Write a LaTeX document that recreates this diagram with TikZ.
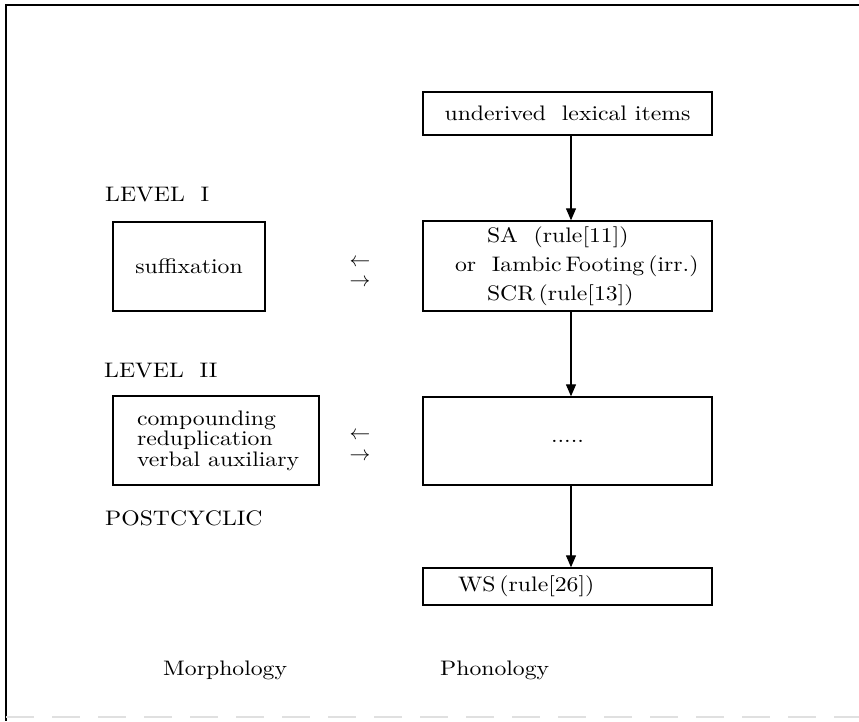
\documentclass[tikz,border=0pt]{standalone}
\usepackage{graphicx}
\usetikzlibrary{arrows.meta}

% 10pt text enlarged, a little wider than tall; word spaces taken from the 10pt font
\newcommand{\wt}[1]{\scalebox{2.37}[2.1]{\fontsize{10}{12}\selectfont\spaceskip=0pt\xspaceskip=0pt #1}}

\tikzset{
  box/.style={draw, line width=1.4pt, inner sep=0pt},
  flow/.style={line width=1.3pt, -{Triangle[length=12pt,width=10pt]}},
  label/.style={anchor=base west, inner sep=0pt},
  swap/.style={inner sep=0pt},
}

\begin{document}
\begin{tikzpicture}[x=1pt, y=-1pt, font=\fontsize{21}{25}\selectfont]
\useasboundingbox (0,0) rectangle (859,721);

% frame
\draw[line width=2pt] (859,5) -- (6,5) -- (6,721);
\draw[black!12, line width=1.2pt, dash pattern=on 28pt off 18pt] (6,717) -- (859,717);

% phonology column
\coordinate (col) at (571,0);
\node[box, minimum width=289pt, minimum height=43pt] (lex) at (567.5,113.5)
  {\wt{underived\ \ lexical items}};
\node[box, minimum width=289pt, minimum height=90pt, text width=289pt, align=left,
      font=\fontsize{21}{29}\selectfont] (sa) at (567.5,266)
  {\hspace*{64pt}\wt{SA\ \ (rule[11])}\\
   \hspace*{32pt}\wt{or\ \ Iambic\,Footing\,(irr.)}\\
   \hspace*{64pt}\wt{SCR\,(rule[13])}};
\node[box, minimum width=289pt, minimum height=88pt] (dots) at (567.5,441) {\wt{.....}};
\node[box, minimum width=289pt, minimum height=37pt, text width=289pt, align=left] (ws) at (567.5,586.5)
  {\hspace*{35pt}\wt{WS\,(rule[26])}};

\draw[flow] (lex.south -| col) -- (sa.north -| col);
\draw[flow] (sa.south -| col) -- (dots.north -| col);
\draw[flow] (dots.south -| col) -- (ws.north -| col);

% morphology column
\node[label] (lv1) at (105,201) {\wt{LEVEL\ \ I}};
\node[box, minimum width=152pt, minimum height=89pt] (suf) at (189,266.5) {\wt{suffixation}};
\node[label] (lv2) at (104,377) {\wt{LEVEL\ \ II}};
\node[box, minimum width=206pt, minimum height=89pt, text width=206pt, align=left,
      font=\fontsize{21}{20.5}\selectfont] (comp) at (216,440.5)
  {\hspace*{24pt}\wt{compounding}\\
   \hspace*{24pt}\wt{reduplication}\\
   \hspace*{24pt}\wt{verbal auxiliary}};
\node[label] (post) at (105,525) {\wt{POSTCYCLIC}};

% interaction between the components
\node[swap] (l1) at (360,263) {$\leftarrow$};
\node[swap] (r1) at (360,283) {$\rightarrow$};
\node[swap] (l2) at (360,436) {$\leftarrow$};
\node[swap] (r2) at (360,457) {$\rightarrow$};

% column headings
\node[label] (morph) at (163,675) {\wt{Morphology}};
\node[label] (phon) at (440,675) {\wt{Phonology}};
\end{tikzpicture}
\end{document}
